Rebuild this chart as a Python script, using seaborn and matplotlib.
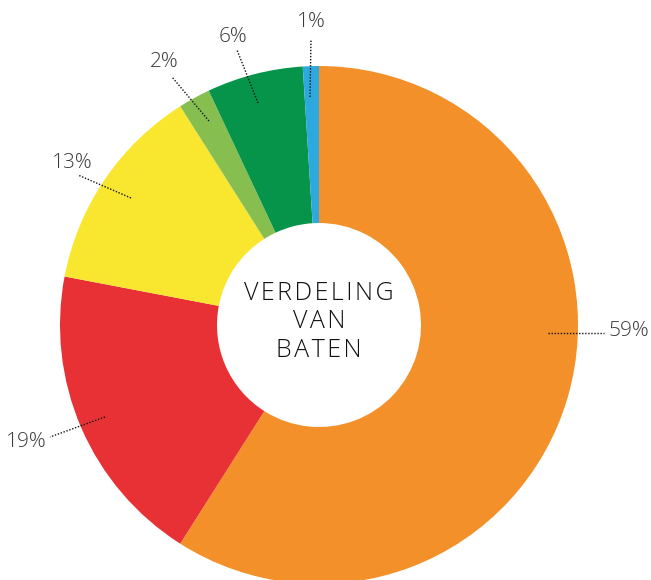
import matplotlib
matplotlib.use("Agg")
import matplotlib.pyplot as plt
import seaborn as sns

# Data
categories = ["A", "B", "C", "D", "E", "F"]
values = [59, 19, 13, 2, 6, 1]
labels = ["59%", "19%", "13%", "2%", "6%", "1%"]
colors = ["#F39029", "#E73134", "#F8E72E", "#86BE4F", "#05944A", "#2EA9E0"]

sns.set_theme(style="white")
plt.rcParams["font.family"] = ["Lato", "DejaVu Sans"]

fig = plt.figure(figsize=(6.51, 5.80), dpi=100)
ax = fig.add_axes([0, 0, 1, 1])

H = 580
cx, cy, R = 319, H - 325, 259
ax.pie(values, colors=colors, startangle=90, counterclock=False,
       center=(cx, cy), radius=R, frame=True,
       wedgeprops=dict(width=R - 102, linewidth=0))
ax.set_xlim(0, 651)
ax.set_ylim(0, 580)
ax.set_aspect("equal")
ax.axis("off")

# leader lines: (start inside slice) -> (end near label), label position, alignment
leaders = [
    ((548, 333), (604, 333), (608, 331), "left"),
    ((105, 417), (50, 437), (47, 442), "right"),
    ((131, 198), (78, 175), (72, 163), "center"),
    ((209, 121), (172, 77), (164, 62), "center"),
    ((258, 103), (237, 50), (233, 37), "center"),
    ((310, 97), (311, 39), (311, 22), "center"),
]
for lab, (p0, p1, pt, ha) in zip(labels, leaders):
    ax.plot([p0[0], p1[0]], [H - p0[1], H - p1[1]], color="#111111",
            linestyle=(0, (1, 1.2)), linewidth=1.0)
    ax.text(pt[0], H - pt[1], lab, ha=ha, va="center", fontsize=15,
            color="#3a3a3a", family=["Open Sans", "Lato", "DejaVu Sans"],
            fontweight=300)

ax.text(cx, H - 322, "V E R D E L I N G\nV A N\nB A T E N".replace(" ", "\u200a"),
        ha="center", va="center", fontsize=18, color="#111111",
        family=["Open Sans", "Lato", "DejaVu Sans"], fontweight=300,
        linespacing=1.2)

fig.savefig("out.png", dpi=100)
